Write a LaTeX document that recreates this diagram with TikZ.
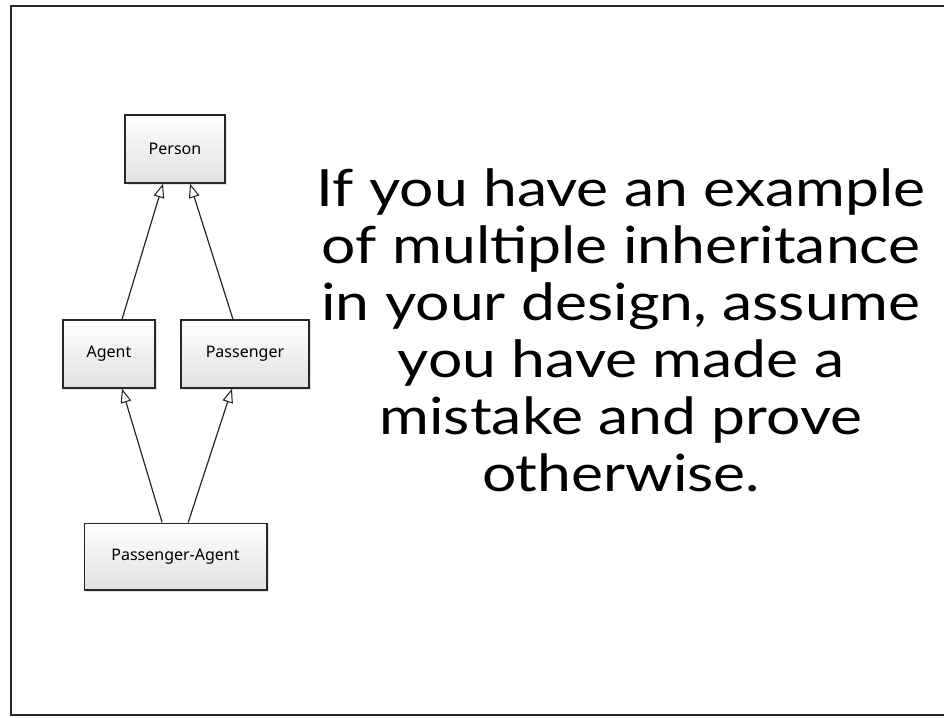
\documentclass[tikz,border=0pt]{standalone}
\usepackage{fontspec}
\setmainfont[FakeStretch=1.18]{Lato}
\newfontfamily\boxfont{Noto Sans}
\usetikzlibrary{arrows.meta,shadows}

\tikzset{
  classbox/.style={draw=black!85, line width=1pt, inner sep=0pt,
    top color=white, bottom color=black!12,
    drop shadow={opacity=0.22, shadow xshift=1.5pt, shadow yshift=-1.5pt},
    font=\boxfont\fontsize{12}{14}\selectfont},
  inherits/.style={draw=black!85, line width=0.9pt,
    -{Triangle[open, length=10.5pt, width=8pt, line width=0.8pt]}},
  slideline/.style={anchor=base, inner sep=0pt,
    font=\fontsize{38.5}{42}\selectfont}
}

\begin{document}
\begin{tikzpicture}[x=0.75pt, y=-0.75pt]
  \useasboundingbox (0,0) rectangle (944,717);
  % slide frame
  \draw[black!85, line width=1.2pt] (944,6) -- (11,6) -- (11,715) -- (944,715);

  % class boxes
  \node[classbox, minimum width=75pt, minimum height=51pt] (person) at (175,149) {Person};
  \node[classbox, minimum width=69pt, minimum height=51pt] (agent) at (109,354) {Agent};
  \node[classbox, minimum width=96pt, minimum height=51pt] (passenger) at (245,354) {Passenger};
  \node[classbox, minimum width=137pt, minimum height=50pt] (pa) at (175.5,556.5) {Passenger-Agent};

  % generalisation arrows
  \draw[inherits] ([xshift=9.75pt]agent.north) -- ([xshift=-9pt]person.south);
  \draw[inherits] ([xshift=-9pt]passenger.north) -- ([xshift=11.25pt]person.south);
  \draw[inherits] ([xshift=-10pt]pa.north) -- ([xshift=9.75pt]agent.south);
  \draw[inherits] ([xshift=9.5pt]pa.north) -- ([xshift=-9.75pt]passenger.south);

  % statement
  \node[slideline] (l1) at (621,206) {If you have an example};
  \node[slideline] (l2) at (621,263) {of multiple inheritance};
  \node[slideline] (l3) at (621,320) {in your design, assume};
  \node[slideline] (l4) at (621,377) {you have made a};
  \node[slideline] (l5) at (621,434) {mistake and prove};
  \node[slideline] (l6) at (621,491) {otherwise.};
\end{tikzpicture}
\end{document}
